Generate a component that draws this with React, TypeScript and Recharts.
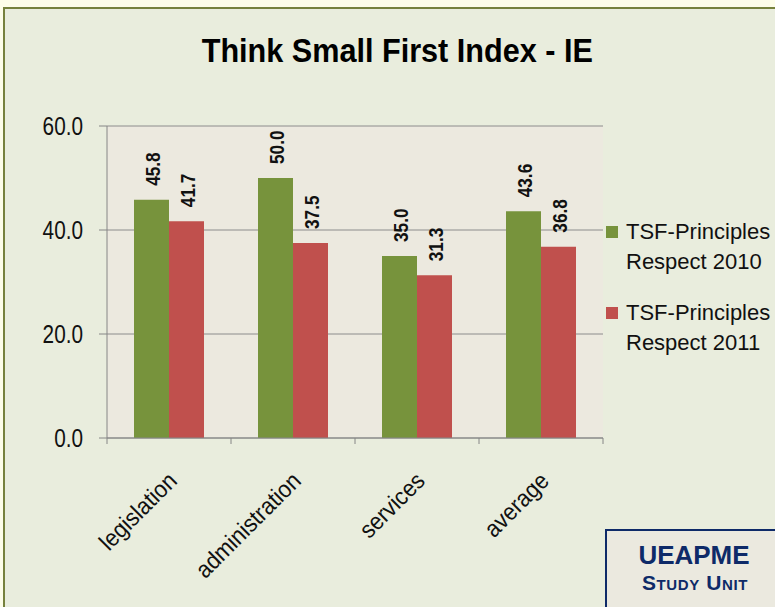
import React from "react";
import { Bar, BarChart, CartesianGrid, LabelList, XAxis, YAxis } from "recharts";

const categories = ["legislation", "administration", "services", "average"];
const respect2010 = [45.8, 50.0, 35.0, 43.6];
const respect2011 = [41.7, 37.5, 31.3, 36.8];
const yTicks = [0, 20, 40, 60];
const seriesNames = ["TSF-Principles Respect 2010", "TSF-Principles Respect 2011"];
const seriesColors = ["#77933c", "#c0504d"];

const chartData = categories.map((name, i) => ({
  name,
  r2010: respect2010[i],
  r2011: respect2011[i],
}));

const FONT = "'Liberation Sans', Arial, sans-serif";

// no narrow font installed, so squeeze along the text direction
function ValueLabel(props: any) {
  const { x, y, width, value } = props;
  const cx = x + width / 2 + 1;
  const ty = y - 14;
  return (
    <g transform={`translate(${cx}, ${ty}) rotate(-90) scale(0.82, 1)`}>
      <text
        x={0}
        y={0}
        textAnchor="start"
        dominantBaseline="central"
        fontFamily={FONT}
        fontWeight="bold"
        fontSize={21}
        fill="#111"
      >
        {Number(value).toFixed(1)}
      </text>
    </g>
  );
}

function ValueTick(props: any) {
  const { x, y, payload } = props;
  return (
    <g transform={`translate(${x}, ${y}) scale(0.83, 1)`}>
      <text x={0} y={0} textAnchor="end" dominantBaseline="central" fontFamily={FONT} fontSize={25} fill="#111">
        {Number(payload.value).toFixed(1)}
      </text>
    </g>
  );
}

function CategoryTick(props: any) {
  const { x, y, payload, index } = props;
  const half = payload.offset ?? 62;
  const tx = x - 3;
  const ty = y + 24;
  return (
    <g>
      <line x1={x - half} x2={x - half} y1={y - 8} y2={y - 2} stroke="#868686" />
      {index === categories.length - 1 && (
        <line x1={x + half} x2={x + half} y1={y - 8} y2={y - 2} stroke="#868686" />
      )}
      <g transform={`translate(${tx}, ${ty}) rotate(-45) scale(0.92, 1)`}>
        <text
          x={0}
          y={0}
          textAnchor="end"
          dominantBaseline="hanging"
          fontFamily={FONT}
          fontSize={24}
          fill="#111"
        >
          {payload.value}
        </text>
      </g>
    </g>
  );
}

export default function App() {
  return (
    <div
      style={{
        position: "absolute",
        left: 0,
        top: 0,
        width: 775,
        height: 607,
        background: "#fdfde9",
        overflow: "hidden",
        fontFamily: FONT,
      }}
    >
      <div
        style={{
          position: "absolute",
          left: 3,
          top: 7,
          width: 790,
          height: 620,
          background: "#e9eddd",
          border: "2px solid #76813d",
        }}
      />
      <div
        style={{
          position: "absolute",
          left: 0,
          top: 33,
          width: 795,
          textAlign: "center",
          fontSize: 34,
          lineHeight: "34px",
          fontWeight: "bold",
          color: "#000",
        }}
      >
        <span style={{ display: "inline-block", transform: "scaleX(0.9)" }}>Think Small First Index - IE</span>
      </div>
      <div style={{ position: "absolute", left: 0, top: 0 }}>
        <BarChart
          width={775}
          height={607}
          data={chartData}
          margin={{ top: 126, right: 172, bottom: 49, left: 47 }}
          barGap={0}
          barSize={35}
        >
          <CartesianGrid vertical={false} stroke="#8c8c8c" fill="#ece9df" fillOpacity={1} />
          <XAxis
            dataKey="name"
            height={120}
            axisLine={{ stroke: "#868686" }}
            tickLine={false}
            interval={0}
            tick={<CategoryTick />}
          />
          <YAxis
            domain={[0, 60]}
            ticks={yTicks}
            width={60}
            axisLine={{ stroke: "#868686" }}
            tickLine={{ stroke: "#868686" }}
            tickSize={8}
            tickMargin={16}
            tick={<ValueTick />}
          />
          <Bar dataKey="r2010" fill={seriesColors[0]} isAnimationActive={false}>
            <LabelList dataKey="r2010" content={<ValueLabel />} />
          </Bar>
          <Bar dataKey="r2011" fill={seriesColors[1]} isAnimationActive={false}>
            <LabelList dataKey="r2011" content={<ValueLabel />} />
          </Bar>
        </BarChart>
      </div>
      {seriesNames.map((name, i) => (
        <div
          key={name}
          style={{
            position: "absolute",
            left: 606,
            top: 217 + i * 81,
            display: "flex",
            alignItems: "flex-start",
            fontSize: 22,
            lineHeight: "30px",
            color: "#111",
          }}
        >
          <span
            style={{
              width: 12,
              height: 12,
              marginTop: 9,
              marginRight: 8,
              background: seriesColors[i],
              flexShrink: 0,
            }}
          />
          <span style={{ width: 150 }}>{name}</span>
        </div>
      ))}
      <div
        style={{
          position: "absolute",
          left: 605,
          top: 529,
          width: 190,
          height: 100,
          background: "#ebe9df",
          border: "2px solid #0e2a68",
          color: "#0e2a68",
          fontWeight: "bold",
        }}
      >
        <div
          style={{
            position: "absolute",
            left: 0,
            width: 174,
            top: 9,
            textAlign: "center",
            fontSize: 26,
            lineHeight: "30px",
          }}
        >
          UEAPME
        </div>
        <div
          style={{
            position: "absolute",
            left: 0,
            width: 176,
            top: 41,
            textAlign: "center",
            fontSize: 21,
            lineHeight: "22px",
            letterSpacing: "0.6px",
            fontVariant: "small-caps",
          }}
        >
          Study Unit
        </div>
      </div>
    </div>
  );
}
